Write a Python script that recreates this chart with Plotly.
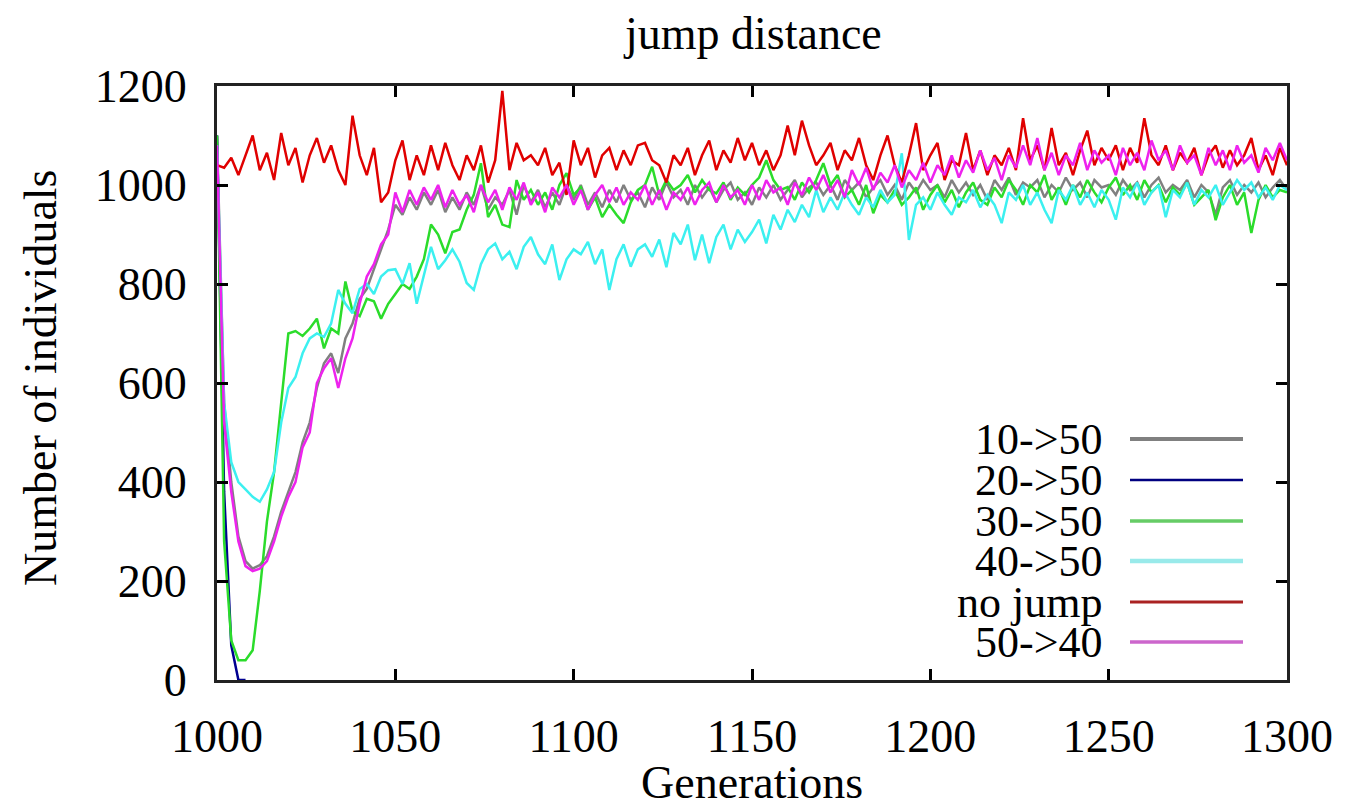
import plotly.graph_objects as go

generations = list(range(1000, 1301, 2))

gray_10_50 = [
    1100, 560, 400, 290, 240, 225, 232, 250, 290, 340,
    380, 420, 480, 520, 590, 640, 660, 620, 690, 720,
    770, 790, 830, 870, 910, 960, 940, 975, 950, 985,
    960, 990, 945, 975, 950, 985, 960, 1000, 950, 975,
    960, 990, 940, 1000, 965, 990, 955, 985, 960, 1000,
    970, 1000, 960, 985, 955, 990, 965, 1000, 970, 985,
    955, 995, 970, 1005, 975, 990, 960, 1000, 975, 995,
    965, 990, 1005, 970, 985, 960, 995, 975, 1000, 970,
    990, 1010, 975, 995, 1005, 980, 1000, 970, 1010, 990,
    1005, 975, 995, 1010, 980, 1000, 970, 1005, 985, 1010,
    990, 1000, 975, 1010, 985, 1005, 980, 1000, 970, 1010,
    990, 1015, 980, 1005, 995, 1010, 975, 1000, 985, 1015,
    990, 1005, 975, 1010, 995, 1000, 980, 1010, 990, 1005,
    975, 1000, 1015, 985, 1000, 990, 1010, 975, 1000, 985,
    940, 995, 1010, 980, 1000, 985, 1005, 975, 995, 1010,
    990,
]

blue_20_50_gen = [1000, 1002, 1004, 1006, 1008]
blue_20_50 = [1100, 380, 70, 0, 0]

green_30_50 = [
    1100, 280, 80, 40, 40, 60, 180, 320, 420, 560,
    700, 705, 695, 710, 730, 670, 710, 700, 805, 745,
    735, 770, 765, 730, 760, 780, 800, 790, 815, 850,
    920, 900, 862, 905, 910, 950, 980, 1044, 935, 960,
    920, 915, 1010, 970, 990, 960, 985, 950, 1000, 1024,
    980, 995, 950, 975, 935, 960, 940, 923, 965, 990,
    1000, 1037, 980, 1010, 990, 1000, 1020, 985, 1010, 990,
    983, 1005, 970, 995, 980, 1000, 1015, 1050, 1010, 990,
    996, 970, 1005, 985, 1010, 1044, 1000, 1020, 975, 990,
    960, 1000, 943, 980, 965, 990, 960, 975, 995, 950,
    980, 1000, 965, 990, 955, 985, 1005, 970, 960, 995,
    975, 1010, 990, 960, 1000, 985, 1020, 970, 995, 960,
    1000, 975, 1010, 985, 965, 995, 1015, 980, 1000, 970,
    1010, 985, 1000, 965, 995, 980, 1005, 960, 975, 990,
    929, 975, 1000, 960, 985, 903, 970, 1000, 975, 990,
    985,
]

cyan_40_50 = [
    1080, 560, 440, 400, 385, 370, 360, 385, 420, 520,
    590, 612, 660, 690, 700, 693, 720, 788, 760, 741,
    790, 800, 780, 815, 828, 830, 800, 842, 760, 820,
    875, 830, 848, 870, 845, 802, 788, 840, 870, 882,
    850, 865, 830, 875, 895, 860, 840, 880, 808, 850,
    870, 860, 885, 840, 870, 788, 850, 880, 835, 870,
    880, 855, 890, 834, 903, 880, 920, 848, 900, 842,
    895, 920, 870, 910, 885, 905, 930, 882, 940, 910,
    950, 925, 960, 935, 990, 945, 975, 950, 985, 960,
    940, 975, 955, 990, 965, 980, 1064, 889, 960, 975,
    950, 985, 960, 940, 975, 965, 990, 955, 980, 960,
    923, 985, 970, 1000, 960, 985, 950, 923, 990, 970,
    1000, 960, 985, 955, 990, 970, 930, 995, 975, 1005,
    960, 985, 1000, 935, 990, 975, 1005, 960, 990, 975,
    1000, 960, 985, 1010, 990, 1005, 975, 995, 970, 1000,
    990,
]

red_no_jump = [
    1040, 1035, 1055, 1020, 1060, 1100, 1030, 1065, 1010, 1105,
    1040, 1075, 1005, 1060, 1095, 1045, 1080, 1030, 1000, 1140,
    1060, 1020, 1075, 965, 985, 1050, 1090, 1010, 1060, 1020,
    1080, 1030, 1085, 1040, 1010, 1060, 1030, 1080, 1005, 1050,
    1190, 1030, 1085, 1050, 1060, 1040, 1075, 1020, 1045, 980,
    1090, 1040, 1075, 1015, 1060, 1075, 1030, 1070, 1040, 1080,
    1085, 1050, 1040, 1005, 1060, 1040, 1075, 1020, 1060, 1090,
    1030, 1070, 1045, 1095, 1050, 1085, 1040, 1070, 1030, 1060,
    1120, 1060, 1130, 1080, 1040, 1060, 1085, 1030, 1070, 1050,
    1095, 1040, 1010, 1060, 1100, 1040, 1005, 1060, 1125, 1030,
    1060, 1085, 1010, 1050, 1040, 1105, 1030, 1070, 1020, 1060,
    1040, 1075, 1030, 1135, 1050, 1080, 1030, 1115, 1040, 1065,
    1020, 1070, 1110, 1040, 1075, 1050, 1080, 1030, 1075, 1045,
    1135, 1060, 1040, 1080, 1030, 1065, 1045, 1075, 1020, 1060,
    1080, 1035, 1070, 1040, 1060, 1095, 1030, 1060, 1020, 1075,
    1040,
]

magenta_50_40 = [
    1080, 520, 380, 280, 230, 220, 225, 240, 280, 330,
    370, 400, 470, 500, 600, 630, 650, 590, 650, 690,
    760, 815, 840, 880, 900, 985, 945, 990, 960, 995,
    970, 1000, 955, 990, 960, 980, 945, 1000, 965, 990,
    950, 995, 970, 1005, 960, 985, 945, 995, 975, 1000,
    960, 990, 950, 980, 1000, 965, 995, 960, 985, 970,
    1000, 960, 990, 950, 985, 970, 995, 960, 990, 1005,
    965, 1000, 975, 990, 960, 1000, 970, 1010, 985, 995,
    960, 1005, 980, 1015, 990, 1020, 985, 1010, 975, 1030,
    1000, 1035, 990, 1025, 1005, 1040, 995, 1030, 1010, 1045,
    1005, 1040, 1020, 1060, 1015, 1050, 1025, 1070, 1030, 1055,
    1010, 1060, 1035, 1080, 1040, 1095, 1030, 1065, 1020, 1060,
    1040, 1085, 1030, 1070, 1045, 1060, 1020, 1075, 1040, 1065,
    1030, 1090, 1050, 1070, 1030, 1080, 1045, 1060, 1020, 1075,
    1040, 1070, 1030, 1080, 1045, 1060, 1025, 1075, 1050, 1085,
    1050,
]

series_names = ["10->50", "20->50", "30->50", "40->50", "no jump", "50->40"]
series_colors = ["#808080", "#000090", "#2bdc2b", "#3cf0f0", "#e00000", "#ee22ee"]
legend_colors = ["#808080", "#000080", "#66cc66", "#99eaea", "#aa2222", "#cc66cc"]
series_x = [generations, blue_20_50_gen, generations, generations, generations, generations]
series_y = [gray_10_50, blue_20_50, green_30_50, cyan_40_50, red_no_jump, magenta_50_40]
series_widths = [2.5, 2.5, 2.5, 2.5, 2.5, 2.5]
legend_widths = [4, 2.5, 3.5, 4.5, 3, 3.5]

x_ticks = [1000, 1050, 1100, 1150, 1200, 1250, 1300]
y_ticks = [0, 200, 400, 600, 800, 1000, 1200]

FONT = "Liberation Serif"
FS = 46
LEG_FS = 44

# page has an 8px body margin: the figure is laid out in page pixels minus that offset
OFF = 8
FIG_W, FIG_H = 1350 - OFF, 806 - OFF
L, R, T, B = 217, 1287, 86, 680          # plot area in page pixels
W, H = R - L, B - T

def px(x):
    return (x - L) / W

def py(y):
    return (B - y) / H

fig = go.Figure()
for name, color, xs, ys, w in zip(series_names, series_colors, series_x, series_y, series_widths):
    fig.add_trace(go.Scatter(x=xs, y=ys, mode="lines", name=name,
                             line=dict(color=color, width=w), showlegend=False))

# manual gnuplot-style legend (text right-aligned, sample line to the right)
row_y = [439, 480, 521, 561, 602, 642]
for name, color, w, yy in zip(series_names, legend_colors, legend_widths, row_y):
    fig.add_annotation(x=px(1104), y=py(yy), xref="paper", yref="paper", text=name,
                       showarrow=False, xanchor="right", yanchor="middle",
                       font=dict(family=FONT, size=LEG_FS, color="black"))
    fig.add_shape(type="line", xref="paper", yref="paper",
                  x0=px(1130), x1=px(1243), y0=py(yy), y1=py(yy),
                  line=dict(color=color, width=w))

fig.add_annotation(x=0.5, y=1, xref="paper", yref="paper", text="jump distance",
                   showarrow=False, xanchor="center", yanchor="middle", yshift=T - 33,
                   font=dict(family=FONT, size=FS, color="black"))
fig.add_annotation(x=0.5, y=0, xref="paper", yref="paper", text="Generations",
                   showarrow=False, xanchor="center", yanchor="middle", yshift=-(782 - B),
                   font=dict(family=FONT, size=FS, color="black"))
fig.add_annotation(x=0, y=py(378), xref="paper", yref="paper", text="Number of individuals",
                   showarrow=False, xanchor="center", yanchor="middle", xshift=40 - L,
                   textangle=-90, font=dict(family=FONT, size=FS, color="black"))

axis_common = dict(showgrid=False, zeroline=False, showline=True, linecolor="#222222",
                   linewidth=3, mirror="ticks", ticks="inside", ticklen=11, tickwidth=2.5,
                   tickcolor="black", tickfont=dict(family=FONT, size=FS, color="black"))

fig.update_xaxes(range=[1000, 1300], tickvals=x_ticks, ticktext=[str(v) for v in x_ticks],
                 ticklabelstandoff=14, **axis_common)
fig.update_yaxes(range=[0, 1200], tickvals=y_ticks, ticktext=[str(v) for v in y_ticks],
                 ticklabelstandoff=18, **axis_common)

fig.update_layout(width=FIG_W, height=FIG_H,
                  margin=dict(l=L - OFF, r=1350 - R, t=T - OFF, b=806 - B, pad=0),
                  paper_bgcolor="white", plot_bgcolor="white", showlegend=False,
                  font=dict(family=FONT, size=FS, color="black"))

fig.write_html("out.html")
